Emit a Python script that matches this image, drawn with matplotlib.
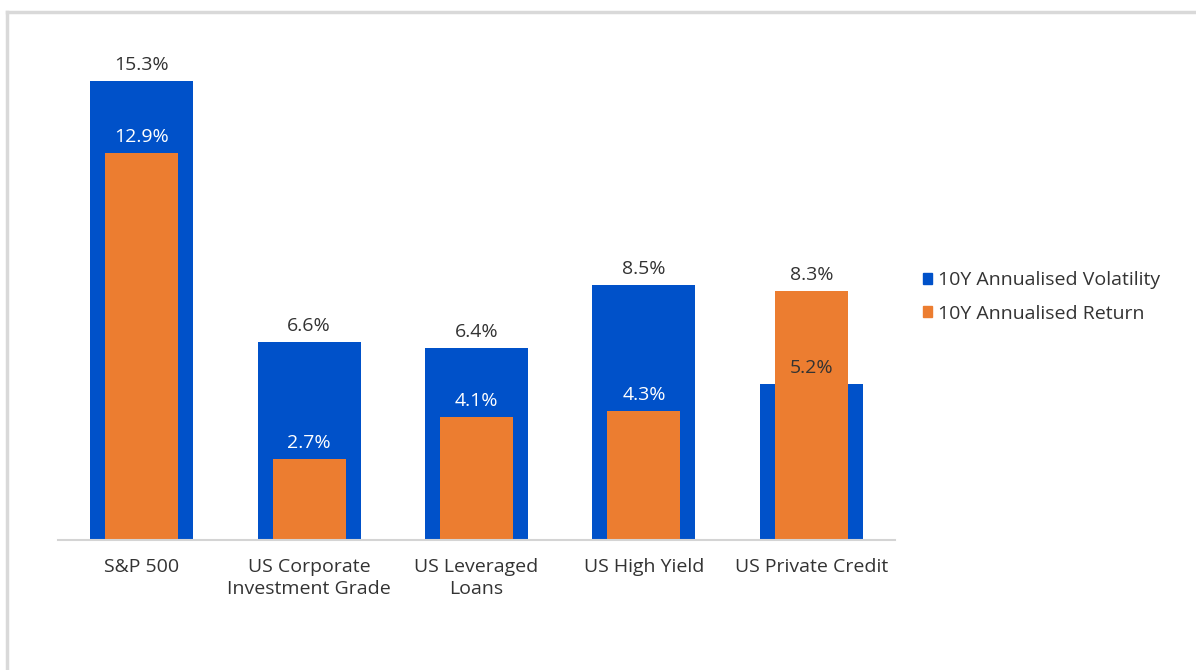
import matplotlib.pyplot as plt
from matplotlib.lines import Line2D
from matplotlib.patches import Patch
import numpy as np

plt.rcParams['font.family'] = ['Open Sans', 'DejaVu Sans']

categories = ['S&P 500', 'US Corporate\nInvestment Grade', 'US Leveraged\nLoans',
              'US High Yield', 'US Private Credit']
volatility = [15.3, 6.6, 6.4, 8.5, 5.2]
returns = [12.9, 2.7, 4.1, 4.3, 8.3]

BLUE = '#0051C9'
ORANGE = '#EC7D30'
TEXT = '#333333'
FS = 14

fig = plt.figure(figsize=(11.96, 6.7), dpi=100)
ax = fig.add_axes([58 / 1196, 130 / 670, 837 / 1196, 510 / 670])

x = np.arange(len(categories))
ax.bar(x, volatility, width=0.615, color=BLUE, zorder=2)
ax.bar(x, returns, width=0.435, color=ORANGE, zorder=3)

# labels sit just above each bar top; the shorter bar's label falls inside the taller one
for i in range(len(categories)):
    v, r = volatility[i], returns[i]
    ax.annotate(f'{v:.1f}%', (x[i], v), xytext=(0, 5), textcoords='offset points',
                ha='center', va='bottom', fontsize=FS, color=TEXT, zorder=5)
    ax.annotate(f'{r:.1f}%', (x[i], r), xytext=(0, 5), textcoords='offset points',
                ha='center', va='bottom', fontsize=FS,
                color='white' if r < v else TEXT, zorder=5)

ax.set_xlim(-0.5, 4.5)
ax.set_ylim(0, 17)
ax.set_xticks(x)
ax.set_xticklabels(categories, fontsize=FS, color=TEXT, linespacing=1.25)
ax.tick_params(axis='x', length=0, pad=13)
ax.set_yticks([])
for s in ['top', 'right', 'left']:
    ax.spines[s].set_visible(False)
ax.spines['bottom'].set_color('#D4D4D4')
ax.spines['bottom'].set_linewidth(1.5)
ax.spines['bottom'].set_zorder(4)

handles = [Patch(color=BLUE), Patch(color=ORANGE)]
fig.legend(handles, ['10Y Annualised Volatility', '10Y Annualised Return'],
           loc='center left', bbox_to_anchor=(905 / 1196, 1 - 297 / 670),
           frameon=False, fontsize=FS, handlelength=0.5, handleheight=0.5,
           handletextpad=0.3, labelspacing=0.8, labelcolor=TEXT)

# thin gray frame along the top and left edge
fig.add_artist(Line2D([7 / 1196, 1], [1 - 12 / 670, 1 - 12 / 670],
                      transform=fig.transFigure, color='#D9D9D9', lw=2.5))
fig.add_artist(Line2D([7 / 1196, 7 / 1196], [0, 1 - 12 / 670],
                      transform=fig.transFigure, color='#D9D9D9', lw=2.5))

fig.savefig('out.png', dpi=100, facecolor='white')
